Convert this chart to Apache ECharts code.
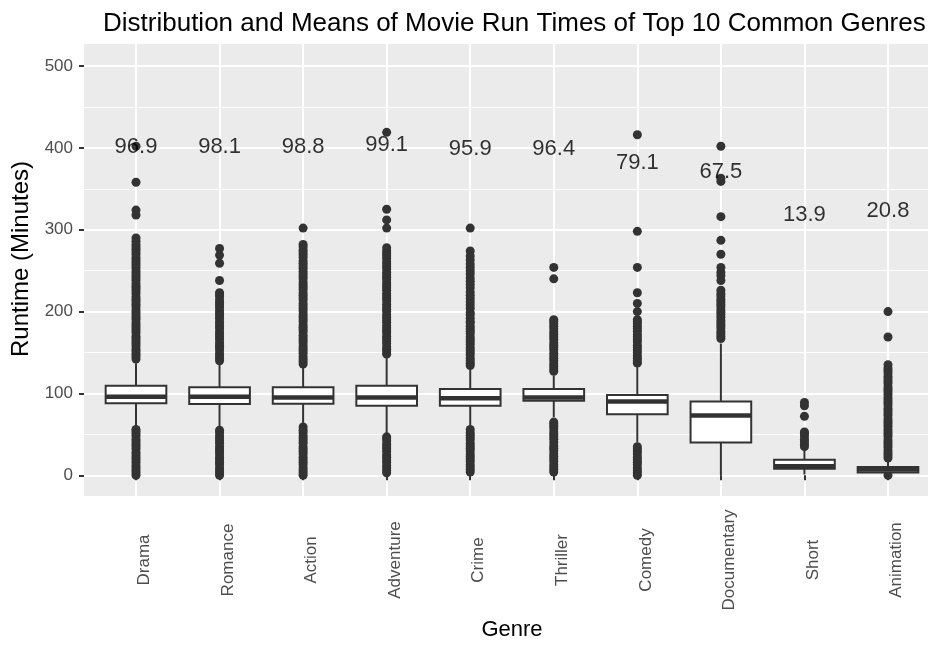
<!DOCTYPE html>
<html>
<head>
<meta charset="utf-8">
<script src="https://cdn.jsdelivr.net/npm/echarts@6/dist/echarts.min.js"></script>
<style>
  html, body { margin: 0; padding: 0; background: #ffffff; }
  #chart { width: 928px; height: 646px; }
</style>
</head>
<body>
<div id="chart"></div>
<script>
// Genres in plotting order
const genres = ['Drama', 'Romance', 'Action', 'Adventure', 'Crime', 'Thriller', 'Comedy', 'Documentary', 'Short', 'Animation'];

// Five-number summaries (minutes): whisker ends, quartiles, median
const whiskerLow  = [58, 60, 64, 51, 61, 71, 40, 0, 1, 0];
const quartile1   = [88, 87, 87.5, 85, 85, 91, 74.5, 40, 8, 3.5];
const medians     = [96, 96, 95, 95, 94, 95, 90, 73, 11, 7];
const quartile3   = [109.5, 107.5, 107.5, 109.5, 105.5, 105.5, 98, 90, 19, 10];
const whiskerHigh = [137, 135, 131, 143, 129, 122, 132, 161, 30, 20];

// Mean run time per genre and the height at which each mean is printed
const meanRuntime = [96.9, 98.1, 98.8, 99.1, 95.9, 96.4, 79.1, 67.5, 13.9, 20.8];
const meanLabelAt = [401, 401, 401, 403, 399, 399, 382, 371, 318, 323];

// Outlying run times per genre (minutes)
const dramaOut = [0, 3, 6, 9, 12, 16, 19, 22, 25, 28, 32, 35, 38, 41, 44, 48, 51, 54, 56,
  142, 145, 148, 151, 154, 158, 161, 164, 167, 170, 174, 177, 180, 183, 186, 190, 193, 196, 199, 202,
  206, 209, 212, 215, 218, 222, 225, 228, 231, 234, 238, 241, 244, 247, 250, 254, 257, 260, 263, 266,
  270, 273, 276, 279, 282, 286, 290, 318, 324, 358, 402];
const romanceOut = [0, 3, 6, 9, 13, 16, 19, 22, 26, 29, 32, 35, 39, 42, 45, 48, 52, 55,
  140, 143, 146, 149, 153, 156, 159, 162, 166, 169, 172, 175, 179, 182, 185, 188, 192, 195, 198, 201,
  205, 208, 211, 214, 218, 221, 223, 238, 259, 269, 277];
const actionOut = [0, 3, 6, 9, 13, 16, 19, 22, 26, 29, 32, 35, 39, 42, 45, 48, 52, 55, 59,
  136, 139, 142, 145, 149, 152, 155, 158, 162, 165, 168, 171, 175, 178, 181, 184, 188, 191, 194, 197,
  201, 204, 207, 210, 214, 217, 220, 223, 227, 230, 233, 236, 240, 243, 246, 249, 253, 256, 259, 262,
  266, 269, 272, 275, 279, 282, 302];
const adventureOut = [3, 6, 9, 12, 16, 19, 22, 25, 29, 32, 35, 38, 42, 45, 47,
  148, 151, 154, 157, 161, 164, 167, 170, 174, 177, 180, 183, 187, 190, 193, 196, 200, 203, 206, 209,
  213, 216, 219, 222, 226, 229, 232, 235, 239, 242, 245, 248, 252, 255, 258, 261, 265, 268, 271, 274,
  278, 302, 312, 325, 419];
const crimeOut = [4, 7, 10, 13, 17, 20, 23, 26, 30, 33, 36, 39, 43, 46, 49, 52, 56,
  134, 137, 140, 143, 147, 150, 153, 156, 160, 163, 166, 169, 173, 176, 179, 182, 186, 188,
  192, 196, 199, 204, 208, 212, 216, 220, 224, 229, 233, 237, 241, 246, 250, 254, 258, 263, 268, 274, 302];
const thrillerOut = [4, 7, 10, 13, 17, 20, 23, 26, 30, 33, 36, 40, 44, 47, 50, 53, 57, 60, 63, 65,
  127, 130, 133, 136, 140, 143, 146, 149, 153, 156, 159, 162, 166, 169, 172, 175, 179, 182, 185, 188, 190,
  240, 254];
const comedyOut = [0, 3, 6, 9, 13, 16, 19, 22, 26, 29, 32, 35,
  137, 140, 143, 146, 150, 153, 156, 159, 163, 166, 169, 172, 176, 179, 182, 185, 188, 190,
  200, 210, 223, 254, 298, 416];
const documentaryOut = [167, 170, 173, 176, 180, 183, 186, 189, 193, 196, 199, 202, 206, 209, 212, 215,
  219, 222, 226, 238, 244, 248, 254, 270, 287, 316, 359, 363, 402];
const shortOut = [35, 38, 41, 44, 48, 51, 53, 72, 85, 89];
const animationOut = [0, 21, 24, 27, 30, 34, 37, 40, 43, 47, 50, 53, 56, 60, 63, 66, 69, 73, 76, 79, 82,
  86, 89, 92, 95, 99, 102, 105, 108, 112, 115, 118, 121, 125, 128, 131, 135, 169, 200];

// Value-axis gridlines
const majorTicks = [0, 100, 200, 300, 400, 500];
const minorTicks = [50, 150, 250, 350, 450];

const outlierLists = [dramaOut, romanceOut, actionOut, adventureOut, crimeOut,
  thrillerOut, comedyOut, documentaryOut, shortOut, animationOut];

const boxData = genres.map((g, i) =>
  [g, whiskerLow[i], quartile1[i], medians[i], quartile3[i], whiskerHigh[i]]);
const outlierData = [];
outlierLists.forEach((list, i) => list.forEach(v => outlierData.push([genres[i], v])));
const meanData = genres.map((g, i) => [g, meanLabelAt[i], meanRuntime[i].toFixed(1)]);

const FONT = 'Liberation Sans, Arial, sans-serif';
const Y_MIN = -25.3, Y_MAX = 526.9;
const INK = '#333333';

const chart = echarts.init(document.getElementById('chart'), null, { renderer: 'canvas' });

chart.setOption({
  animation: false,
  backgroundColor: '#ffffff',
  title: {
    text: 'Distribution and Means of Movie Run Times of Top 10 Common Genres',
    left: 98, top: 6,
    textStyle: { fontFamily: FONT, fontSize: 26, fontWeight: 'normal', color: '#000000' }
  },
  grid: [
    // grey panel with horizontal gridlines and the value axis
    { left: 84, top: 44, width: 854, height: 452, show: true, backgroundColor: '#EBEBEB', borderWidth: 0 },
    // genre positions inside the panel
    { left: 136, top: 44, width: 752, height: 452, show: false }
  ],
  xAxis: [
    { gridIndex: 0, type: 'value', min: 0, max: 1, show: false },
    {
      gridIndex: 1, type: 'category', data: genres, boundaryGap: false,
      axisLine: { show: false },
      axisTick: { show: true, length: 5, lineStyle: { color: INK, width: 2 } },
      axisLabel: {
        rotate: 90, margin: 64, align: 'center', verticalAlign: 'top',
        fontFamily: FONT, fontSize: 17, color: '#4D4D4D', interval: 0
      },
      splitLine: { show: true, lineStyle: { color: '#ffffff', width: 2 } },
      name: 'Genre', nameLocation: 'middle', nameGap: 123,
      nameTextStyle: { fontFamily: FONT, fontSize: 22, color: '#000000' }
    }
  ],
  yAxis: [
    {
      gridIndex: 0, type: 'value', min: Y_MIN, max: Y_MAX,
      axisLine: { show: false },
      axisTick: { show: true, length: 5, lineStyle: { color: INK, width: 2 }, customValues: majorTicks },
      axisLabel: { margin: 11, fontFamily: FONT, fontSize: 17, color: '#4D4D4D', customValues: majorTicks },
      splitLine: { show: true, lineStyle: { color: '#ffffff', width: 2 } },
      name: 'Runtime (Minutes)', nameLocation: 'middle', nameGap: 50,
      nameTextStyle: { fontFamily: FONT, fontSize: 24, color: '#000000', padding: [0, 0, 0, 22] }
    },
    {
      gridIndex: 0, type: 'value', min: Y_MIN, max: Y_MAX,
      axisLine: { show: false },
      axisTick: { show: false, customValues: minorTicks },
      axisLabel: { show: false },
      splitLine: { show: true, lineStyle: { color: '#ffffff', width: 1 } }
    },
    { gridIndex: 1, type: 'value', min: Y_MIN, max: Y_MAX, show: false }
  ],
  series: [
    {
      name: 'outliers', type: 'scatter', xAxisIndex: 1, yAxisIndex: 2,
      data: outlierData, symbol: 'circle', symbolSize: 9,
      itemStyle: { color: INK, opacity: 1 }, z: 2, silent: true
    },
    {
      name: 'boxes', type: 'custom', xAxisIndex: 1, yAxisIndex: 2,
      data: boxData, encode: { x: 0, y: [1, 2, 3, 4, 5] }, z: 3, silent: true,
      renderItem: function (params, api) {
        const x = api.value(0);
        const lo = api.coord([x, api.value(1)]);
        const q1 = api.coord([x, api.value(2)]);
        const md = api.coord([x, api.value(3)]);
        const q3 = api.coord([x, api.value(4)]);
        const hi = api.coord([x, api.value(5)]);
        const band = api.size([1, 0])[0];
        const half = band * 0.75 / 2 - 1;
        const cx = lo[0];
        const stroke = { stroke: INK, lineWidth: 2, fill: null };
        return {
          type: 'group',
          children: [
            { type: 'line', shape: { x1: cx, y1: hi[1], x2: cx, y2: q3[1] }, style: stroke },
            { type: 'line', shape: { x1: cx, y1: q1[1], x2: cx, y2: lo[1] }, style: stroke },
            { type: 'rect', shape: { x: cx - half, y: q3[1], width: 2 * half, height: q1[1] - q3[1] },
              style: { fill: '#ffffff', stroke: INK, lineWidth: 2 } },
            { type: 'line', shape: { x1: cx - half, y1: md[1], x2: cx + half, y2: md[1] },
              style: { stroke: INK, lineWidth: 4.5 } }
          ]
        };
      }
    },
    {
      name: 'means', type: 'scatter', xAxisIndex: 1, yAxisIndex: 2,
      data: meanData, symbolSize: 1, z: 4, silent: true,
      itemStyle: { color: 'rgba(0,0,0,0)' },
      label: {
        show: true, position: 'inside', formatter: p => p.value[2],
        fontFamily: FONT, fontSize: 22, color: '#000000'
      }
    }
  ]
});
</script>
</body>
</html>
